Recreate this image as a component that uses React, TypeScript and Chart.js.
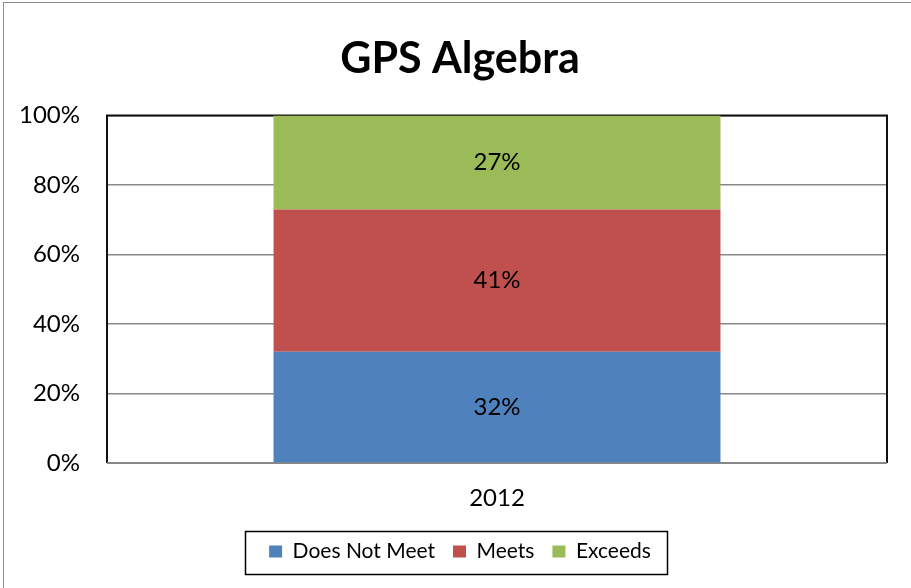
import React, { useEffect, useRef } from "react";
import { Chart, registerables } from "chart.js";

Chart.register(...registerables);

const categories = ["2012"];
const seriesNames = ["Does Not Meet", "Meets", "Exceeds"];
const doesNotMeet = [32];
const meets = [41];
const exceeds = [27];
const seriesColors = ["#4F81BD", "#C0504D", "#9BBB59"];
const yTicks = [0, 20, 40, 60, 80, 100];

const FONT = "Lato, 'Noto Sans', sans-serif";

const framePlugin = {
  id: "frame",
  beforeDatasetsDraw(chart: any) {
    const { ctx, chartArea } = chart;
    ctx.save();
    ctx.strokeStyle = "#111";
    ctx.lineWidth = 2;
    ctx.beginPath();
    ctx.moveTo(chartArea.left, chartArea.bottom);
    ctx.lineTo(chartArea.left, chartArea.top);
    ctx.lineTo(chartArea.right, chartArea.top);
    ctx.lineTo(chartArea.right, chartArea.bottom);
    ctx.stroke();
    ctx.strokeStyle = "#888";
    ctx.beginPath();
    ctx.moveTo(chartArea.left, chartArea.bottom);
    ctx.lineTo(chartArea.right, chartArea.bottom);
    ctx.stroke();
    ctx.restore();
  },
};

const labelPlugin = {
  id: "segLabels",
  afterDatasetsDraw(chart: any) {
    const { ctx } = chart;
    ctx.save();
    ctx.fillStyle = "#000";
    ctx.font = `24px ${FONT}`;
    ctx.textAlign = "center";
    ctx.textBaseline = "middle";
    chart.data.datasets.forEach((ds: any, i: number) => {
      const meta = chart.getDatasetMeta(i);
      meta.data.forEach((bar: any, j: number) => {
        const v = ds.data[j];
        const cy = (bar.y + bar.base) / 2;
        ctx.fillText(`${v}%`, bar.x, cy);
      });
    });
    ctx.restore();
  },
};

const legendBoxPlugin = {
  id: "legendBox",
  afterDraw(chart: any) {
    const lg = chart.legend;
    if (!lg || !lg.legendHitBoxes || !lg.legendHitBoxes.length) return;
    const hb = lg.legendHitBoxes;
    const left = hb[0].left - 24;
    const right = hb[hb.length - 1].left + hb[hb.length - 1].width + 16;
    const cy = hb[0].top + hb[0].height / 2;
    const { ctx } = chart;
    ctx.save();
    ctx.strokeStyle = "#000";
    ctx.lineWidth = 1.5;
    ctx.strokeRect(Math.round(left) + 0.5, Math.round(cy - 21) + 0.5, Math.round(right - left), 43);
    ctx.restore();
  },
};

export default function App() {
  const ref = useRef<HTMLCanvasElement | null>(null);

  useEffect(() => {
    document.body.style.margin = "0";
    if (!ref.current) return;
    const chart = new Chart(ref.current, {
      type: "bar",
      data: {
        labels: categories,
        datasets: [
          { label: seriesNames[0], data: doesNotMeet, backgroundColor: seriesColors[0] },
          { label: seriesNames[1], data: meets, backgroundColor: seriesColors[1] },
          { label: seriesNames[2], data: exceeds, backgroundColor: seriesColors[2] },
        ],
      },
      options: {
        animation: false,
        responsive: false,
        maintainAspectRatio: false,
        devicePixelRatio: 1,
        layout: { padding: { left: 9, right: 0, top: 0, bottom: 16 } },
        datasets: { bar: { categoryPercentage: 0.573, barPercentage: 1 } },
        plugins: {
          title: {
            display: true,
            text: "GPS Algebra",
            color: "#000",
            font: { family: FONT, size: 43, weight: "bold" },
            padding: { top: 33, bottom: 31 },
          },
          legend: {
            display: true,
            position: "bottom",
            labels: {
              color: "#000",
              font: { family: FONT, size: 21 },
              boxWidth: 13,
              boxHeight: 12,
              padding: 18,
            },
          },
          tooltip: { enabled: false },
        },
        scales: {
          x: {
            stacked: true,
            grid: { display: false, drawTicks: false },
            border: { display: false },
            ticks: { color: "#000", font: { family: FONT, size: 24 }, padding: 21 },
            afterFit(scale: any) {
              const lh = scale.chart.legend ? scale.chart.legend.height : 50;
              scale.height = 588 - 463 - lh - 16;
            },
          },
          y: {
            stacked: true,
            min: 0,
            max: 100,
            afterBuildTicks(scale: any) {
              scale.ticks = yTicks.map((v) => ({ value: v }));
            },
            grid: { color: "#888", lineWidth: 1.5, drawTicks: false },
            border: { display: false },
            ticks: {
              color: "#000",
              font: { family: FONT, size: 24 },
              padding: 27,
              callback: (v: any) => `${v}%`,
            },
            afterFit(scale: any) {
              scale.width = 98;
            },
          },
          yRight: {
            position: "right",
            display: true,
            min: 0,
            max: 100,
            grid: { display: false, drawTicks: false },
            border: { display: false },
            ticks: { display: false },
            afterFit(scale: any) {
              scale.width = 24;
            },
          },
        },
      },
      plugins: [framePlugin, labelPlugin, legendBoxPlugin],
    });
    return () => chart.destroy();
  }, []);

  return (
    <div style={{ position: "relative", width: 911, height: 588, background: "#fff", overflow: "hidden" }}>
      <div
        style={{
          position: "absolute",
          left: 3,
          top: 2,
          width: 960,
          height: 640,
          borderLeft: "1.5px solid #8c8c8c",
          borderTop: "1.5px solid #8c8c8c",
          pointerEvents: "none",
        }}
      />
      <canvas ref={ref} width={911} height={588} style={{ position: "absolute", left: 0, top: 0, display: "block" }} />
    </div>
  );
}
